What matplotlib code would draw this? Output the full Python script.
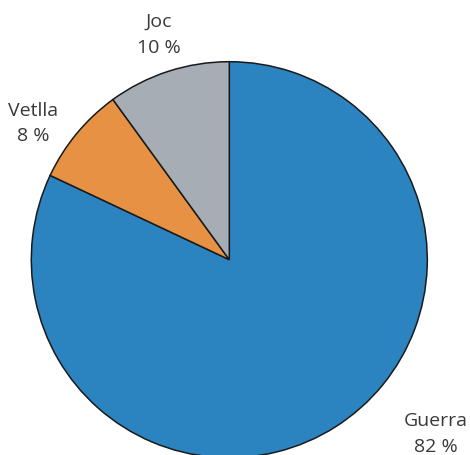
import matplotlib
matplotlib.use('agg')
import matplotlib.pyplot as plt

# dades
labels = ["Guerra", "Vetlla", "Joc"]
values = [82, 8, 10]
colors = ["#2b83c0", "#e69143", "#a7adb5"]

plt.rcParams['font.family'] = ['Open Sans', 'DejaVu Sans']

W, H = 470, 456
fig = plt.figure(figsize=(W / 100, H / 100), dpi=100)
ax = fig.add_axes([0, 0, 1, 1])

# pie in pixel-like data coords (y up)
ax.pie(values, colors=colors, startangle=90, counterclock=False,
       center=(229.3, H - 260.7), radius=198,
       wedgeprops=dict(edgecolor='#1a1a1a', linewidth=1.1))
ax.set_xlim(0, W)
ax.set_ylim(0, H)
ax.set_aspect('equal')
ax.axis('off')

# etiquetes (posició x, baseline línia 1, baseline línia 2) en píxels
label_pos = {"Joc": (159, 27, 52.5), "Vetlla": (33, 116, 141), "Guerra": (436, 426, 452)}
for lab, val in zip(labels, values):
    x, y1, y2 = label_pos[lab]
    ax.text(x, H - y1, lab, ha='center', va='baseline', fontsize=14, color='#3a3a3a')
    ax.text(x, H - y2, f"{val} %", ha='center', va='baseline', fontsize=14, color='#3a3a3a')

fig.savefig("out.png", dpi=100)
